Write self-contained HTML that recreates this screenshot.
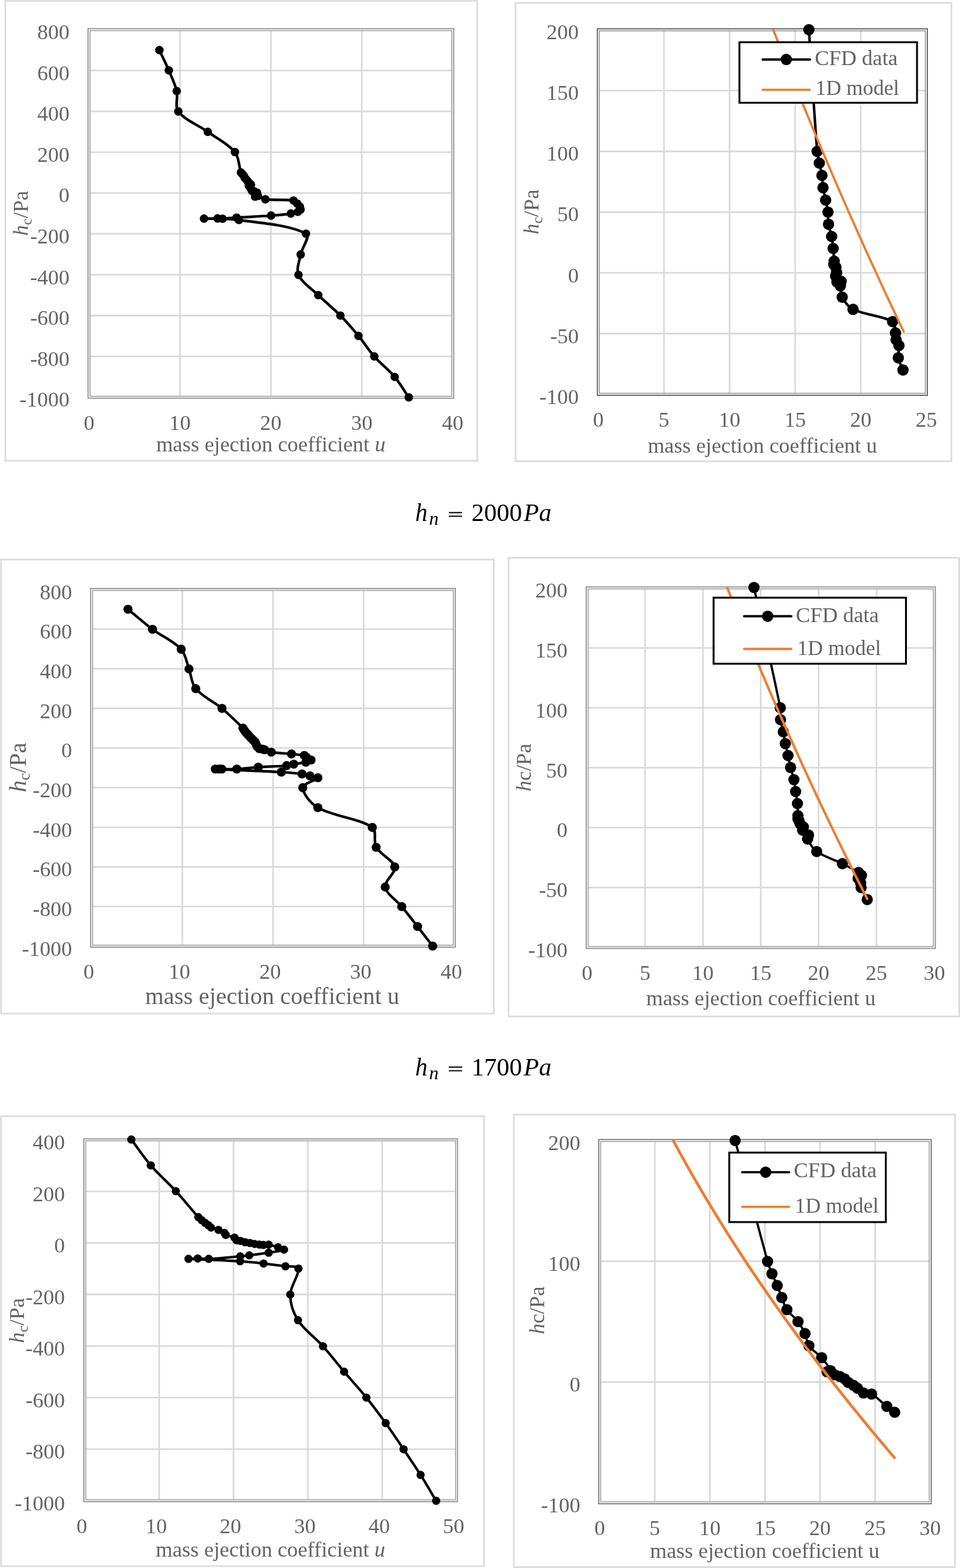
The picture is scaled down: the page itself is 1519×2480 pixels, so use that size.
<!DOCTYPE html>
<html><head><meta charset="utf-8"><title>mass ejection coefficient charts</title>
<style>html,body{margin:0;padding:0;background:#fff;}svg{display:block;}</style></head>
<body><svg width="1519" height="2480" viewBox="0 0 1519 2480">
<rect width="1519" height="2480" fill="#fff"/>
<rect x="8.6" y="1.3" width="746.5" height="727.5" fill="#fff" stroke="#dddddd" stroke-width="2.8"/>
<line x1="284.75" y1="46.9" x2="284.75" y2="628.3" stroke="#d9d9d9" stroke-width="2.6"/>
<line x1="428.6" y1="46.9" x2="428.6" y2="628.3" stroke="#d9d9d9" stroke-width="2.6"/>
<line x1="572.45" y1="46.9" x2="572.45" y2="628.3" stroke="#d9d9d9" stroke-width="2.6"/>
<line x1="140.9" y1="111.5" x2="716.3" y2="111.5" stroke="#d9d9d9" stroke-width="2.6"/>
<line x1="140.9" y1="176.1" x2="716.3" y2="176.1" stroke="#d9d9d9" stroke-width="2.6"/>
<line x1="140.9" y1="240.7" x2="716.3" y2="240.7" stroke="#d9d9d9" stroke-width="2.6"/>
<line x1="140.9" y1="305.3" x2="716.3" y2="305.3" stroke="#d9d9d9" stroke-width="2.6"/>
<line x1="140.9" y1="369.9" x2="716.3" y2="369.9" stroke="#d9d9d9" stroke-width="2.6"/>
<line x1="140.9" y1="434.5" x2="716.3" y2="434.5" stroke="#d9d9d9" stroke-width="2.6"/>
<line x1="140.9" y1="499.1" x2="716.3" y2="499.1" stroke="#d9d9d9" stroke-width="2.6"/>
<line x1="140.9" y1="563.7" x2="716.3" y2="563.7" stroke="#d9d9d9" stroke-width="2.6"/>
<rect x="140.9" y="46.9" width="575.4" height="581.4" fill="none" stroke="#e4e4e4" stroke-width="3.4"/>
<rect x="139.2" y="45.2" width="578.8" height="584.8" fill="none" stroke="#7a7a7a" stroke-width="1.2"/>
<rect x="142.6" y="48.6" width="572" height="578" fill="none" stroke="#9a9a9a" stroke-width="1.2"/>
<g font-family="'Liberation Serif', 'Times New Roman', serif" font-size="34" fill="#636363" text-anchor="middle">
<text x="140.9" y="679.5">0</text>
<text x="284.75" y="679.5">10</text>
<text x="428.6" y="679.5">20</text>
<text x="572.45" y="679.5">30</text>
<text x="716.3" y="679.5">40</text>
</g>
<g font-family="'Liberation Serif', 'Times New Roman', serif" font-size="34" fill="#636363" text-anchor="end">
<text x="110" y="61.9">800</text>
<text x="110" y="126.5">600</text>
<text x="110" y="191.1">400</text>
<text x="110" y="255.7">200</text>
<text x="110" y="320.3">0</text>
<text x="110" y="384.9">-200</text>
<text x="110" y="449.5">-400</text>
<text x="110" y="514.1">-600</text>
<text x="110" y="578.7">-800</text>
<text x="110" y="643.3">-1000</text>
</g>
<text transform="translate(43.6,337.4) rotate(-90)" font-family="'Liberation Serif', 'Times New Roman', serif" font-size="34" fill="#636363" text-anchor="middle"><tspan font-style="italic">h</tspan><tspan font-size="24" dy="6">c</tspan><tspan dy="-6">/Pa</tspan></text>
<text x="428.6" y="714.2" font-family="'Liberation Serif', 'Times New Roman', serif" font-size="34" fill="#636363" text-anchor="middle">mass ejection coefficient <tspan font-style="italic">u</tspan></text>
<path d="M252.2,79.3 C257.17,89.97 262.51,100.47 267.1,111.3 C271.64,122.01 276.99,132.68 279.6,143.9 C282.03,154.35 276.23,168.44 282.2,176.3 C292.59,189.97 313.38,197.51 328.7,208.5 C343.22,218.91 360.95,227.34 371.7,240.5 C378.45,248.77 377.64,262.25 381.2,272.8 C381.54,273.82 382.68,274.39 383.4,275.2 C384.11,275.99 384.93,276.71 385.5,277.6 C386.17,278.65 386.4,279.98 387.1,281 C387.77,281.98 388.83,282.68 389.6,283.6 C390.4,284.55 390.99,285.66 391.8,286.6 C392.66,287.6 393.67,288.47 394.6,289.4 C395.43,290.23 397.26,291.23 397.1,291.9 C396.93,292.63 393.74,292.75 393.6,293.6 C393.44,294.62 395.38,296.17 396.2,297.5 C397.11,298.97 397.58,300.98 398.8,302 C399.68,302.74 401.31,302.41 402.5,302.8 C403.94,303.27 406.35,303.68 406.7,304.6 C407.01,305.41 405.1,306.8 404.5,308 C404.03,308.94 403.01,310.75 403.5,311 C404.25,311.38 406.71,309.52 408.2,309.9 C412.17,310.92 415.71,314.66 419.9,315.2 C434.44,317.06 450.05,315.19 464.4,317.1 C466.85,317.43 468.47,320.16 470.3,321.9 C471.84,323.36 473.49,324.9 474.5,326.7 C475.26,328.06 476.09,330.11 475.6,331.4 C475.02,332.91 473,334.39 471.3,335.1 C467.87,336.53 463.96,337.28 460.2,337.8 C449.83,339.24 439.36,340.23 428.9,341 C410.72,342.33 392.49,342.94 374.3,344.1 C366.92,344.57 359.57,345.56 352.2,345.9 C349.57,346.02 346.94,345.52 344.3,345.5 C337.14,345.45 319.65,345.48 322.8,345.7 C330.89,346.28 359.84,345.21 378,347.9 C413.6,353.18 459.26,355.76 484.1,369.6 C491.86,373.92 477.81,391.33 475.8,402.4 C473.87,413.03 468.41,425.68 472.3,434.7 C477.67,447.15 492.88,456.39 503.6,466.8 C514.98,477.86 527.46,487.82 538.6,499.1 C548.66,509.28 558.06,520.17 567.2,531.2 C575.93,541.74 583.16,553.56 592.2,563.8 C602.26,575.19 614.72,584.51 624.5,596.1 C632.92,606.08 639.37,617.7 646.8,628.5" fill="none" stroke="#000" stroke-width="4.2" stroke-linejoin="round" stroke-linecap="round"/>
<circle cx="252.2" cy="79.3" r="6.7"/>
<circle cx="267.1" cy="111.3" r="6.7"/>
<circle cx="279.6" cy="143.9" r="6.7"/>
<circle cx="282.2" cy="176.3" r="6.7"/>
<circle cx="328.7" cy="208.5" r="6.7"/>
<circle cx="371.7" cy="240.5" r="6.7"/>
<circle cx="381.2" cy="272.8" r="6.7"/>
<circle cx="383.4" cy="275.2" r="6.7"/>
<circle cx="385.5" cy="277.6" r="6.7"/>
<circle cx="387.1" cy="281" r="6.7"/>
<circle cx="389.6" cy="283.6" r="6.7"/>
<circle cx="391.8" cy="286.6" r="6.7"/>
<circle cx="394.6" cy="289.4" r="6.7"/>
<circle cx="397.1" cy="291.9" r="6.7"/>
<circle cx="393.6" cy="293.6" r="6.7"/>
<circle cx="396.2" cy="297.5" r="6.7"/>
<circle cx="398.8" cy="302" r="6.7"/>
<circle cx="402.5" cy="302.8" r="6.7"/>
<circle cx="406.7" cy="304.6" r="6.7"/>
<circle cx="404.5" cy="308" r="6.7"/>
<circle cx="403.5" cy="311" r="6.7"/>
<circle cx="408.2" cy="309.9" r="6.7"/>
<circle cx="419.9" cy="315.2" r="6.7"/>
<circle cx="464.4" cy="317.1" r="6.7"/>
<circle cx="470.3" cy="321.9" r="6.7"/>
<circle cx="474.5" cy="326.7" r="6.7"/>
<circle cx="475.6" cy="331.4" r="6.7"/>
<circle cx="471.3" cy="335.1" r="6.7"/>
<circle cx="460.2" cy="337.8" r="6.7"/>
<circle cx="428.9" cy="341" r="6.7"/>
<circle cx="374.3" cy="344.1" r="6.7"/>
<circle cx="352.2" cy="345.9" r="6.7"/>
<circle cx="344.3" cy="345.5" r="6.7"/>
<circle cx="322.8" cy="345.7" r="6.7"/>
<circle cx="378" cy="347.9" r="6.7"/>
<circle cx="484.1" cy="369.6" r="6.7"/>
<circle cx="475.8" cy="402.4" r="6.7"/>
<circle cx="472.3" cy="434.7" r="6.7"/>
<circle cx="503.6" cy="466.8" r="6.7"/>
<circle cx="538.6" cy="499.1" r="6.7"/>
<circle cx="567.2" cy="531.2" r="6.7"/>
<circle cx="592.2" cy="563.8" r="6.7"/>
<circle cx="624.5" cy="596.1" r="6.7"/>
<circle cx="646.8" cy="628.5" r="6.7"/>
<rect x="815.7" y="4.6" width="689.7" height="725" fill="#fff" stroke="#dddddd" stroke-width="2.8"/>
<line x1="1050.6" y1="47.2" x2="1050.6" y2="623.68" stroke="#d9d9d9" stroke-width="2.6"/>
<line x1="1154.4" y1="47.2" x2="1154.4" y2="623.68" stroke="#d9d9d9" stroke-width="2.6"/>
<line x1="1258.2" y1="47.2" x2="1258.2" y2="623.68" stroke="#d9d9d9" stroke-width="2.6"/>
<line x1="1362" y1="47.2" x2="1362" y2="623.68" stroke="#d9d9d9" stroke-width="2.6"/>
<line x1="946.8" y1="143.28" x2="1465.8" y2="143.28" stroke="#d9d9d9" stroke-width="2.6"/>
<line x1="946.8" y1="239.36" x2="1465.8" y2="239.36" stroke="#d9d9d9" stroke-width="2.6"/>
<line x1="946.8" y1="335.44" x2="1465.8" y2="335.44" stroke="#d9d9d9" stroke-width="2.6"/>
<line x1="946.8" y1="431.52" x2="1465.8" y2="431.52" stroke="#d9d9d9" stroke-width="2.6"/>
<line x1="946.8" y1="527.6" x2="1465.8" y2="527.6" stroke="#d9d9d9" stroke-width="2.6"/>
<rect x="946.8" y="47.2" width="519" height="576.48" fill="none" stroke="#e4e4e4" stroke-width="3.4"/>
<rect x="945.1" y="45.5" width="522.4" height="579.88" fill="none" stroke="#333" stroke-width="1.2"/>
<rect x="948.5" y="48.9" width="515.6" height="573.08" fill="none" stroke="#8a8a8a" stroke-width="1.2"/>
<g font-family="'Liberation Serif', 'Times New Roman', serif" font-size="34" fill="#636363" text-anchor="middle">
<text x="946.8" y="675">0</text>
<text x="1050.6" y="675">5</text>
<text x="1154.4" y="675">10</text>
<text x="1258.2" y="675">15</text>
<text x="1362" y="675">20</text>
<text x="1465.8" y="675">25</text>
</g>
<g font-family="'Liberation Serif', 'Times New Roman', serif" font-size="34" fill="#636363" text-anchor="end">
<text x="915.8" y="62.2">200</text>
<text x="915.8" y="158.28">150</text>
<text x="915.8" y="254.36">100</text>
<text x="915.8" y="350.44">50</text>
<text x="915.8" y="446.52">0</text>
<text x="915.8" y="542.6">-50</text>
<text x="915.8" y="638.68">-100</text>
</g>
<text transform="translate(852,335.3) rotate(-90)" font-family="'Liberation Serif', 'Times New Roman', serif" font-size="34" fill="#636363" text-anchor="middle"><tspan font-style="italic">h</tspan><tspan font-size="24" dy="6">c</tspan><tspan dy="-6">/Pa</tspan></text>
<text x="1206.3" y="715.5" font-family="'Liberation Serif', 'Times New Roman', serif" font-size="34" fill="#636363" text-anchor="middle">mass ejection coefficient u</text>
<path d="M1279.9,47 C1284.27,111.13 1287.99,175.35 1293,239.4 C1293.49,245.68 1295.17,251.82 1296.4,258 C1297.7,264.52 1299.62,270.94 1300.6,277.5 C1301.55,283.87 1301.25,290.43 1302.2,296.8 C1303.19,303.43 1305.06,309.92 1306.4,316.5 C1307.69,322.82 1309.33,329.11 1310.1,335.5 C1310.86,341.84 1310.05,348.4 1311,354.7 C1311.98,361.23 1314.66,367.49 1315.9,374 C1317.09,380.26 1317.65,386.65 1318.3,393 C1318.98,399.68 1319.61,406.4 1319.9,413.1 C1319.97,414.8 1318.96,416.66 1319.4,418.2 C1319.89,419.9 1322.13,421.06 1322.7,422.8 C1323.56,425.4 1323.8,428.43 1323.7,431.2 C1323.63,433.07 1322.13,434.85 1322.2,436.7 C1322.33,439.79 1322.59,444.35 1324.3,446 C1325.49,447.15 1330.03,444.12 1330.9,445.1 C1331.83,446.15 1329.54,449.76 1329.7,452.1 C1330.11,458.06 1329.84,464.89 1332.6,470 C1336.54,477.29 1342.28,485.65 1349.8,489.3 C1368.88,498.55 1394.95,499 1412.4,508.7 C1417.31,511.43 1415.75,520.57 1416.9,526.6 C1417.58,530.17 1416.94,534.04 1417.9,537.5 C1418.78,540.68 1422,543.27 1422.4,546.5 C1423.17,552.74 1420.37,559.65 1421.4,565.9 C1422.5,572.55 1426.33,578.77 1428.8,585.2" fill="none" stroke="#000" stroke-width="4" stroke-linejoin="round" stroke-linecap="round"/>
<circle cx="1279.9" cy="47" r="9"/>
<circle cx="1293" cy="239.4" r="9"/>
<circle cx="1296.4" cy="258" r="9"/>
<circle cx="1300.6" cy="277.5" r="9"/>
<circle cx="1302.2" cy="296.8" r="9"/>
<circle cx="1306.4" cy="316.5" r="9"/>
<circle cx="1310.1" cy="335.5" r="9"/>
<circle cx="1311" cy="354.7" r="9"/>
<circle cx="1315.9" cy="374" r="9"/>
<circle cx="1318.3" cy="393" r="9"/>
<circle cx="1319.9" cy="413.1" r="9"/>
<circle cx="1319.4" cy="418.2" r="9"/>
<circle cx="1322.7" cy="422.8" r="9"/>
<circle cx="1323.7" cy="431.2" r="9"/>
<circle cx="1322.2" cy="436.7" r="9"/>
<circle cx="1324.3" cy="446" r="9"/>
<circle cx="1330.9" cy="445.1" r="9"/>
<circle cx="1329.7" cy="452.1" r="9"/>
<circle cx="1332.6" cy="470" r="9"/>
<circle cx="1349.8" cy="489.3" r="9"/>
<circle cx="1412.4" cy="508.7" r="9"/>
<circle cx="1416.9" cy="526.6" r="9"/>
<circle cx="1417.9" cy="537.5" r="9"/>
<circle cx="1422.4" cy="546.5" r="9"/>
<circle cx="1421.4" cy="565.9" r="9"/>
<circle cx="1428.8" cy="585.2" r="9"/>
<path d="M1223.87,48 C1225.45,52.07 1227.03,56.15 1228.62,60.22 C1230.2,64.3 1231.8,68.37 1233.39,72.44 C1234.99,76.52 1236.59,80.59 1238.2,84.66 C1239.8,88.74 1241.41,92.81 1243.03,96.88 C1244.64,100.96 1246.26,105.03 1247.89,109.1 C1249.51,113.18 1251.14,117.25 1252.78,121.32 C1254.41,125.4 1256.05,129.47 1257.69,133.54 C1259.34,137.62 1260.99,141.69 1262.64,145.76 C1264.29,149.84 1265.95,153.91 1267.61,157.98 C1269.28,162.06 1270.94,166.13 1272.61,170.21 C1274.29,174.28 1275.96,178.35 1277.64,182.43 C1279.33,186.5 1281.01,190.57 1282.7,194.65 C1284.39,198.72 1286.09,202.79 1287.79,206.87 C1289.49,210.94 1291.19,215.02 1292.9,219.09 C1294.61,223.16 1296.33,227.24 1298.04,231.31 C1299.76,235.38 1301.49,239.46 1303.22,243.53 C1304.94,247.6 1306.68,251.68 1308.41,255.75 C1310.15,259.82 1311.9,263.9 1313.64,267.97 C1315.39,272.04 1317.14,276.12 1318.9,280.19 C1320.66,284.26 1322.42,288.34 1324.18,292.41 C1325.95,296.49 1327.72,300.56 1329.49,304.63 C1331.27,308.71 1333.05,312.78 1334.83,316.85 C1336.62,320.93 1338.41,325 1340.2,329.07 C1342,333.15 1343.8,337.22 1345.6,341.29 C1347.4,345.37 1349.21,349.44 1351.03,353.51 C1352.84,357.59 1354.66,361.66 1356.48,365.73 C1358.3,369.81 1360.13,373.88 1361.96,377.95 C1363.79,382.03 1365.63,386.1 1367.47,390.17 C1369.31,394.25 1371.16,398.32 1373.01,402.39 C1374.86,406.47 1376.72,410.54 1378.58,414.62 C1380.44,418.69 1382.3,422.76 1384.17,426.84 C1386.04,430.91 1387.91,434.98 1389.79,439.06 C1391.67,443.13 1393.56,447.21 1395.44,451.28 C1397.33,455.35 1399.23,459.43 1401.12,463.5 C1403.02,467.57 1404.92,471.65 1406.83,475.72 C1408.74,479.79 1410.65,483.87 1412.57,487.94 C1414.48,492.01 1416.41,496.09 1418.33,500.16 C1420.26,504.23 1422.19,508.31 1424.12,512.38 C1426.06,516.45 1428,520.53 1429.94,524.6" fill="none" stroke="#ed7d31" stroke-width="3.6" stroke-linecap="round"/>
<rect x="1170" y="66.8" width="281" height="95.7" fill="#fff" stroke="#000" stroke-width="3"/>
<line x1="1206.8" y1="94.1" x2="1281.5" y2="94.1" stroke="#000" stroke-width="3.7" stroke-linecap="round"/>
<circle cx="1244.15" cy="94.1" r="9"/>
<line x1="1206.8" y1="142" x2="1281.5" y2="142" stroke="#ed7d31" stroke-width="3.6" stroke-linecap="round"/>
<g font-family="'Liberation Serif', 'Times New Roman', serif" font-size="34" fill="#636363">
<text x="1289.2" y="103.2">CFD data</text>
<text x="1290.2" y="150.3" font-size="33.4">1D model</text>
</g>
<rect x="1.6" y="885" width="779.7" height="718.1" fill="#fff" stroke="#dddddd" stroke-width="2.8"/>
<line x1="288.45" y1="932.3" x2="288.45" y2="1496.51" stroke="#d9d9d9" stroke-width="2.6"/>
<line x1="431.9" y1="932.3" x2="431.9" y2="1496.51" stroke="#d9d9d9" stroke-width="2.6"/>
<line x1="575.35" y1="932.3" x2="575.35" y2="1496.51" stroke="#d9d9d9" stroke-width="2.6"/>
<line x1="145" y1="994.99" x2="718.8" y2="994.99" stroke="#d9d9d9" stroke-width="2.6"/>
<line x1="145" y1="1057.68" x2="718.8" y2="1057.68" stroke="#d9d9d9" stroke-width="2.6"/>
<line x1="145" y1="1120.37" x2="718.8" y2="1120.37" stroke="#d9d9d9" stroke-width="2.6"/>
<line x1="145" y1="1183.06" x2="718.8" y2="1183.06" stroke="#d9d9d9" stroke-width="2.6"/>
<line x1="145" y1="1245.75" x2="718.8" y2="1245.75" stroke="#d9d9d9" stroke-width="2.6"/>
<line x1="145" y1="1308.44" x2="718.8" y2="1308.44" stroke="#d9d9d9" stroke-width="2.6"/>
<line x1="145" y1="1371.13" x2="718.8" y2="1371.13" stroke="#d9d9d9" stroke-width="2.6"/>
<line x1="145" y1="1433.82" x2="718.8" y2="1433.82" stroke="#d9d9d9" stroke-width="2.6"/>
<rect x="145" y="932.3" width="573.8" height="564.21" fill="none" stroke="#e4e4e4" stroke-width="3.4"/>
<rect x="143.3" y="930.6" width="577.2" height="567.61" fill="none" stroke="#7a7a7a" stroke-width="1.2"/>
<rect x="146.7" y="934" width="570.4" height="560.81" fill="none" stroke="#9a9a9a" stroke-width="1.2"/>
<g font-family="'Liberation Serif', 'Times New Roman', serif" font-size="34" fill="#636363" text-anchor="middle">
<text x="140.5" y="1548">0</text>
<text x="283.95" y="1548">10</text>
<text x="427.4" y="1548">20</text>
<text x="570.85" y="1548">30</text>
<text x="714.3" y="1548">40</text>
</g>
<g font-family="'Liberation Serif', 'Times New Roman', serif" font-size="34" fill="#636363" text-anchor="end">
<text x="114" y="947.5">800</text>
<text x="114" y="1010.19">600</text>
<text x="114" y="1072.88">400</text>
<text x="114" y="1135.57">200</text>
<text x="114" y="1198.26">0</text>
<text x="114" y="1260.95">-200</text>
<text x="114" y="1323.64">-400</text>
<text x="114" y="1386.33">-600</text>
<text x="114" y="1449.02">-800</text>
<text x="114" y="1511.71">-1000</text>
</g>
<text transform="translate(40.8,1213.8) rotate(-90)" font-family="'Liberation Serif', 'Times New Roman', serif" font-size="37.7" fill="#636363" text-anchor="middle"><tspan font-style="italic">h</tspan><tspan font-size="26" dy="6.5">c</tspan><tspan dy="-6.5">/Pa</tspan></text>
<text x="430.8" y="1588.3" font-family="'Liberation Serif', 'Times New Roman', serif" font-size="37.7" fill="#636363" text-anchor="middle">mass ejection coefficient u</text>
<path d="M202.5,963.6 C215.43,974.2 227.94,985.37 241.3,995.4 C256,1006.44 274.74,1013.82 286.7,1026.8 C293.97,1034.69 295.13,1047.51 299,1058 C302.8,1068.31 302.94,1081.12 309.7,1089.2 C320.37,1101.95 338,1109.39 351.3,1120.5 C362.9,1130.19 373.63,1141.02 384.4,1151.6 C385.43,1152.62 385.88,1154.11 386.7,1155.3 C387.58,1156.57 388.49,1157.83 389.5,1159 C390.36,1160 391.41,1160.83 392.3,1161.8 C393.24,1162.83 394.06,1163.97 395,1165 C395.89,1165.97 396.87,1166.87 397.8,1167.8 C398.73,1168.73 399.67,1169.67 400.6,1170.6 C401.53,1171.53 402.64,1172.34 403.4,1173.4 C404.2,1174.51 404.68,1175.86 405.3,1177.1 C405.91,1178.33 406.3,1179.71 407.1,1180.8 C408,1182.04 409.07,1183.44 410.4,1184.1 C411.87,1184.84 413.81,1184.63 415.5,1185 C416.58,1185.23 417.65,1185.55 418.7,1185.9 C422.22,1187.08 425.55,1189.03 429.2,1189.6 C439.72,1191.23 450.55,1191.42 461.2,1192.5 C467.98,1193.19 475.03,1193.43 481.5,1194.9 C482.96,1195.23 483.73,1197.05 485,1197.9 C487.3,1199.45 492.38,1200.87 492.2,1202.1 C492.01,1203.43 486.8,1204.91 483.9,1205.6 C477.67,1207.08 471.14,1207.47 464.8,1208.6 C461.01,1209.27 457.33,1210.67 453.5,1211 C438.63,1212.27 423.62,1212.38 408.7,1213.4 C397.35,1214.18 386.05,1215.81 374.7,1216.4 C366.78,1216.81 358.83,1216.4 350.9,1216.4 C349.5,1216.4 348.1,1216.4 346.7,1216.4 C344.7,1216.4 338.92,1216.31 340.7,1216.4 C371.72,1217.91 410.32,1219.25 445.1,1221.2 C456.06,1221.81 467.04,1222.69 477.9,1224.1 C482.14,1224.65 486.23,1226.1 490.4,1227.1 C494.6,1228.1 504.17,1228.16 503,1230.1 C500.41,1234.39 479.11,1239.18 479.1,1245.8 C479.08,1254.95 491.85,1271.08 502.9,1277.4 C528.52,1292.05 566.29,1293.2 589.1,1308.7 C597.06,1314.1 590.14,1331.19 595.2,1340.1 C601.97,1352.02 621.98,1359.7 624.6,1371.2 C626.75,1380.66 607.78,1393.28 609.5,1403 C611.48,1414.18 627.14,1423.46 635.7,1433.9 C644.2,1444.26 652.44,1454.84 660.7,1465.4 C668.74,1475.68 676.63,1486.07 684.6,1496.4" fill="none" stroke="#000" stroke-width="4.1" stroke-linejoin="round" stroke-linecap="round"/>
<circle cx="202.5" cy="963.6" r="7.2"/>
<circle cx="241.3" cy="995.4" r="7.2"/>
<circle cx="286.7" cy="1026.8" r="7.2"/>
<circle cx="299" cy="1058" r="7.2"/>
<circle cx="309.7" cy="1089.2" r="7.2"/>
<circle cx="351.3" cy="1120.5" r="7.2"/>
<circle cx="384.4" cy="1151.6" r="7.2"/>
<circle cx="386.7" cy="1155.3" r="7.2"/>
<circle cx="389.5" cy="1159" r="7.2"/>
<circle cx="392.3" cy="1161.8" r="7.2"/>
<circle cx="395" cy="1165" r="7.2"/>
<circle cx="397.8" cy="1167.8" r="7.2"/>
<circle cx="400.6" cy="1170.6" r="7.2"/>
<circle cx="403.4" cy="1173.4" r="7.2"/>
<circle cx="405.3" cy="1177.1" r="7.2"/>
<circle cx="407.1" cy="1180.8" r="7.2"/>
<circle cx="410.4" cy="1184.1" r="7.2"/>
<circle cx="415.5" cy="1185" r="7.2"/>
<circle cx="418.7" cy="1185.9" r="7.2"/>
<circle cx="429.2" cy="1189.6" r="7.2"/>
<circle cx="461.2" cy="1192.5" r="7.2"/>
<circle cx="481.5" cy="1194.9" r="7.2"/>
<circle cx="485" cy="1197.9" r="7.2"/>
<circle cx="492.2" cy="1202.1" r="7.2"/>
<circle cx="483.9" cy="1205.6" r="7.2"/>
<circle cx="464.8" cy="1208.6" r="7.2"/>
<circle cx="453.5" cy="1211" r="7.2"/>
<circle cx="408.7" cy="1213.4" r="7.2"/>
<circle cx="374.7" cy="1216.4" r="7.2"/>
<circle cx="350.9" cy="1216.4" r="7.2"/>
<circle cx="346.7" cy="1216.4" r="7.2"/>
<circle cx="340.7" cy="1216.4" r="7.2"/>
<circle cx="445.1" cy="1221.2" r="7.2"/>
<circle cx="477.9" cy="1224.1" r="7.2"/>
<circle cx="490.4" cy="1227.1" r="7.2"/>
<circle cx="503" cy="1230.1" r="7.2"/>
<circle cx="479.1" cy="1245.8" r="7.2"/>
<circle cx="502.9" cy="1277.4" r="7.2"/>
<circle cx="589.1" cy="1308.7" r="7.2"/>
<circle cx="595.2" cy="1340.1" r="7.2"/>
<circle cx="624.6" cy="1371.2" r="7.2"/>
<circle cx="609.5" cy="1403" r="7.2"/>
<circle cx="635.7" cy="1433.9" r="7.2"/>
<circle cx="660.7" cy="1465.4" r="7.2"/>
<circle cx="684.6" cy="1496.4" r="7.2"/>
<rect x="804.7" y="882.2" width="712.9" height="725.6" fill="#fff" stroke="#dddddd" stroke-width="2.8"/>
<line x1="1020.65" y1="929.9" x2="1020.65" y2="1498.58" stroke="#d9d9d9" stroke-width="2.6"/>
<line x1="1112.2" y1="929.9" x2="1112.2" y2="1498.58" stroke="#d9d9d9" stroke-width="2.6"/>
<line x1="1203.75" y1="929.9" x2="1203.75" y2="1498.58" stroke="#d9d9d9" stroke-width="2.6"/>
<line x1="1295.3" y1="929.9" x2="1295.3" y2="1498.58" stroke="#d9d9d9" stroke-width="2.6"/>
<line x1="1386.85" y1="929.9" x2="1386.85" y2="1498.58" stroke="#d9d9d9" stroke-width="2.6"/>
<line x1="929.1" y1="1024.68" x2="1478.4" y2="1024.68" stroke="#d9d9d9" stroke-width="2.6"/>
<line x1="929.1" y1="1119.46" x2="1478.4" y2="1119.46" stroke="#d9d9d9" stroke-width="2.6"/>
<line x1="929.1" y1="1214.24" x2="1478.4" y2="1214.24" stroke="#d9d9d9" stroke-width="2.6"/>
<line x1="929.1" y1="1309.02" x2="1478.4" y2="1309.02" stroke="#d9d9d9" stroke-width="2.6"/>
<line x1="929.1" y1="1403.8" x2="1478.4" y2="1403.8" stroke="#d9d9d9" stroke-width="2.6"/>
<rect x="929.1" y="929.9" width="549.3" height="568.68" fill="none" stroke="#e4e4e4" stroke-width="3.4"/>
<rect x="927.4" y="928.2" width="552.7" height="572.08" fill="none" stroke="#7a7a7a" stroke-width="1.2"/>
<rect x="930.8" y="931.6" width="545.9" height="565.28" fill="none" stroke="#9a9a9a" stroke-width="1.2"/>
<g font-family="'Liberation Serif', 'Times New Roman', serif" font-size="34" fill="#636363" text-anchor="middle">
<text x="929.1" y="1549.8">0</text>
<text x="1020.65" y="1549.8">5</text>
<text x="1112.2" y="1549.8">10</text>
<text x="1203.75" y="1549.8">15</text>
<text x="1295.3" y="1549.8">20</text>
<text x="1386.85" y="1549.8">25</text>
<text x="1478.4" y="1549.8">30</text>
</g>
<g font-family="'Liberation Serif', 'Times New Roman', serif" font-size="34" fill="#636363" text-anchor="end">
<text x="898" y="945.2">200</text>
<text x="898" y="1039.98">150</text>
<text x="898" y="1134.76">100</text>
<text x="898" y="1229.54">50</text>
<text x="898" y="1324.32">0</text>
<text x="898" y="1419.1">-50</text>
<text x="898" y="1513.88">-100</text>
</g>
<text transform="translate(840.1,1213.9) rotate(-90)" font-family="'Liberation Serif', 'Times New Roman', serif" font-size="34" fill="#636363" text-anchor="middle"><tspan font-style="italic">h</tspan>c/Pa</text>
<text x="1204" y="1590" font-family="'Liberation Serif', 'Times New Roman', serif" font-size="34" fill="#636363" text-anchor="middle">mass ejection coefficient u</text>
<path d="M1193,929.1 C1206.87,992.53 1221.84,1055.84 1234.6,1119.4 C1235.84,1125.57 1234.22,1132.08 1235,1138.3 C1235.82,1144.78 1238.11,1151.07 1239.4,1157.5 C1240.64,1163.67 1241.37,1169.93 1242.6,1176.1 C1243.87,1182.43 1245.51,1188.69 1246.9,1195 C1248.28,1201.29 1249.37,1207.65 1250.9,1213.9 C1252.47,1220.35 1254.84,1226.62 1256.2,1233.1 C1257.51,1239.32 1257.97,1245.7 1258.9,1252 C1259.84,1258.34 1261.2,1264.63 1261.8,1271 C1262.4,1277.3 1262.32,1283.67 1262.5,1290 C1262.55,1291.67 1262.15,1293.42 1262.5,1295 C1262.78,1296.26 1263.87,1297.29 1264.4,1298.5 C1265.04,1299.95 1265.1,1301.74 1266,1303 C1267.36,1304.91 1270.42,1306.05 1271.2,1308 C1271.75,1309.39 1269.19,1311.74 1270,1313 C1271.92,1315.97 1277.71,1317.66 1279.4,1320.7 C1280.31,1322.33 1276.9,1325.17 1277.8,1327 C1281.17,1333.87 1285.73,1342.22 1292.2,1346.8 C1304.1,1355.22 1319.49,1359.29 1332.9,1366 C1341.59,1370.35 1350.27,1374.93 1358.5,1380 C1360.34,1381.13 1363.21,1383.12 1363.1,1384.6 C1362.98,1386.19 1358,1387.39 1357.8,1389.2 C1357.56,1391.35 1360.97,1393.91 1361.8,1396.5 C1362.53,1398.78 1361.61,1401.56 1362.5,1403.8 C1365.08,1410.32 1368.97,1416.47 1372.2,1422.8" fill="none" stroke="#000" stroke-width="3.6" stroke-linejoin="round" stroke-linecap="round"/>
<circle cx="1193" cy="929.1" r="8.9"/>
<circle cx="1234.6" cy="1119.4" r="8.9"/>
<circle cx="1235" cy="1138.3" r="8.9"/>
<circle cx="1239.4" cy="1157.5" r="8.9"/>
<circle cx="1242.6" cy="1176.1" r="8.9"/>
<circle cx="1246.9" cy="1195" r="8.9"/>
<circle cx="1250.9" cy="1213.9" r="8.9"/>
<circle cx="1256.2" cy="1233.1" r="8.9"/>
<circle cx="1258.9" cy="1252" r="8.9"/>
<circle cx="1261.8" cy="1271" r="8.9"/>
<circle cx="1262.5" cy="1290" r="8.9"/>
<circle cx="1262.5" cy="1295" r="8.9"/>
<circle cx="1264.4" cy="1298.5" r="8.9"/>
<circle cx="1266" cy="1303" r="8.9"/>
<circle cx="1271.2" cy="1308" r="8.9"/>
<circle cx="1270" cy="1313" r="8.9"/>
<circle cx="1279.4" cy="1320.7" r="8.9"/>
<circle cx="1277.8" cy="1327" r="8.9"/>
<circle cx="1292.2" cy="1346.8" r="8.9"/>
<circle cx="1332.9" cy="1366" r="8.9"/>
<circle cx="1358.5" cy="1380" r="8.9"/>
<circle cx="1363.1" cy="1384.6" r="8.9"/>
<circle cx="1357.8" cy="1389.2" r="8.9"/>
<circle cx="1361.8" cy="1396.5" r="8.9"/>
<circle cx="1362.5" cy="1403.8" r="8.9"/>
<circle cx="1372.2" cy="1422.8" r="8.9"/>
<path d="M1150.77,929.5 C1152.42,933.71 1154.07,937.92 1155.72,942.12 C1157.38,946.33 1159.05,950.54 1160.71,954.74 C1162.39,958.95 1164.06,963.16 1165.74,967.36 C1167.43,971.57 1169.11,975.78 1170.81,979.98 C1172.5,984.19 1174.21,988.4 1175.91,992.6 C1177.62,996.81 1179.34,1001.02 1181.06,1005.22 C1182.78,1009.43 1184.5,1013.64 1186.24,1017.84 C1187.97,1022.05 1189.71,1026.26 1191.45,1030.46 C1193.2,1034.67 1194.95,1038.88 1196.71,1043.08 C1198.47,1047.29 1200.24,1051.5 1202.01,1055.71 C1203.78,1059.91 1205.56,1064.12 1207.34,1068.33 C1209.12,1072.53 1210.91,1076.74 1212.71,1080.95 C1214.51,1085.16 1216.31,1089.36 1218.12,1093.57 C1219.93,1097.78 1221.75,1101.98 1223.57,1106.19 C1225.39,1110.4 1227.22,1114.6 1229.05,1118.81 C1230.89,1123.02 1232.73,1127.22 1234.58,1131.43 C1236.43,1135.64 1238.28,1139.84 1240.14,1144.05 C1242,1148.26 1243.87,1152.46 1245.74,1156.67 C1247.61,1160.88 1249.49,1165.09 1251.38,1169.29 C1253.27,1173.5 1255.16,1177.71 1257.06,1181.91 C1258.95,1186.12 1260.86,1190.33 1262.77,1194.53 C1264.68,1198.74 1266.6,1202.95 1268.52,1207.15 C1270.45,1211.36 1272.38,1215.57 1274.31,1219.77 C1276.25,1223.98 1278.19,1228.19 1280.14,1232.39 C1282.09,1236.6 1284.05,1240.81 1286.01,1245.01 C1287.97,1249.22 1289.94,1253.43 1291.92,1257.63 C1293.89,1261.84 1295.87,1266.05 1297.86,1270.25 C1299.85,1274.46 1301.84,1278.67 1303.84,1282.87 C1305.84,1287.08 1307.85,1291.29 1309.86,1295.49 C1311.88,1299.7 1313.9,1303.91 1315.92,1308.12 C1317.95,1312.32 1319.98,1316.53 1322.02,1320.74 C1324.06,1324.95 1326.1,1329.15 1328.15,1333.36 C1330.2,1337.57 1332.26,1341.77 1334.32,1345.98 C1336.39,1350.19 1338.46,1354.39 1340.53,1358.6 C1342.61,1362.81 1344.7,1367.01 1346.78,1371.22 C1348.87,1375.43 1350.97,1379.63 1353.07,1383.84 C1355.17,1388.05 1357.28,1392.25 1359.4,1396.46 C1361.51,1400.67 1363.63,1404.88 1365.76,1409.08 C1367.89,1413.29 1370.03,1417.49 1372.16,1421.7" fill="none" stroke="#ed7d31" stroke-width="3.9" stroke-linecap="round"/>
<rect x="1129.1" y="945.3" width="304.4" height="104.5" fill="#fff" stroke="#000" stroke-width="3"/>
<line x1="1177.5" y1="974.7" x2="1252" y2="974.7" stroke="#000" stroke-width="3.7" stroke-linecap="round"/>
<circle cx="1214.75" cy="974.7" r="9"/>
<line x1="1177.5" y1="1026.4" x2="1252" y2="1026.4" stroke="#ed7d31" stroke-width="3.6" stroke-linecap="round"/>
<g font-family="'Liberation Serif', 'Times New Roman', serif" font-size="34" fill="#636363">
<text x="1259.3" y="984">CFD data</text>
<text x="1261.4" y="1035.5" font-size="33.4">1D model</text>
</g>
<rect x="1.6" y="1765.5" width="764.2" height="711.5" fill="#fff" stroke="#dddddd" stroke-width="2.8"/>
<line x1="251.83" y1="1802.75" x2="251.83" y2="2373.6" stroke="#d9d9d9" stroke-width="2.6"/>
<line x1="369.46" y1="1802.75" x2="369.46" y2="2373.6" stroke="#d9d9d9" stroke-width="2.6"/>
<line x1="487.09" y1="1802.75" x2="487.09" y2="2373.6" stroke="#d9d9d9" stroke-width="2.6"/>
<line x1="604.72" y1="1802.75" x2="604.72" y2="2373.6" stroke="#d9d9d9" stroke-width="2.6"/>
<line x1="134.2" y1="1884.3" x2="722.35" y2="1884.3" stroke="#d9d9d9" stroke-width="2.6"/>
<line x1="134.2" y1="1965.85" x2="722.35" y2="1965.85" stroke="#d9d9d9" stroke-width="2.6"/>
<line x1="134.2" y1="2047.4" x2="722.35" y2="2047.4" stroke="#d9d9d9" stroke-width="2.6"/>
<line x1="134.2" y1="2128.95" x2="722.35" y2="2128.95" stroke="#d9d9d9" stroke-width="2.6"/>
<line x1="134.2" y1="2210.5" x2="722.35" y2="2210.5" stroke="#d9d9d9" stroke-width="2.6"/>
<line x1="134.2" y1="2292.05" x2="722.35" y2="2292.05" stroke="#d9d9d9" stroke-width="2.6"/>
<rect x="134.2" y="1802.75" width="588.15" height="570.85" fill="none" stroke="#e4e4e4" stroke-width="3.4"/>
<rect x="132.5" y="1801.05" width="591.55" height="574.25" fill="none" stroke="#7a7a7a" stroke-width="1.2"/>
<rect x="135.9" y="1804.45" width="584.75" height="567.45" fill="none" stroke="#9a9a9a" stroke-width="1.2"/>
<g font-family="'Liberation Serif', 'Times New Roman', serif" font-size="34" fill="#636363" text-anchor="middle">
<text x="129.6" y="2424.5">0</text>
<text x="247.23" y="2424.5">10</text>
<text x="364.86" y="2424.5">20</text>
<text x="482.49" y="2424.5">30</text>
<text x="600.12" y="2424.5">40</text>
<text x="717.75" y="2424.5">50</text>
</g>
<g font-family="'Liberation Serif', 'Times New Roman', serif" font-size="34" fill="#636363" text-anchor="end">
<text x="102.8" y="1818.05">400</text>
<text x="102.8" y="1899.6">200</text>
<text x="102.8" y="1981.15">0</text>
<text x="102.8" y="2062.7">-200</text>
<text x="102.8" y="2144.25">-400</text>
<text x="102.8" y="2225.8">-600</text>
<text x="102.8" y="2307.35">-800</text>
<text x="102.8" y="2388.9">-1000</text>
</g>
<text transform="translate(38.2,2088.6) rotate(-90)" font-family="'Liberation Serif', 'Times New Roman', serif" font-size="34" fill="#636363" text-anchor="middle"><tspan font-style="italic">h</tspan><tspan font-size="24" dy="6">c</tspan><tspan dy="-6">/Pa</tspan></text>
<text x="428" y="2462.1" font-family="'Liberation Serif', 'Times New Roman', serif" font-size="34" fill="#636363" text-anchor="middle">mass ejection coefficient <tspan font-style="italic">u</tspan></text>
<path d="M207.8,1802.3 C218.07,1815.93 227.47,1830.3 238.6,1843.2 C250.94,1857.5 265.4,1869.96 278.2,1883.9 C290.47,1897.26 301.74,1911.56 313.8,1925.1 C315.37,1926.86 317.3,1928.27 319.1,1929.8 C320.83,1931.27 322.59,1932.73 324.4,1934.1 C326.12,1935.4 328,1936.48 329.7,1937.8 C331.17,1938.94 332.24,1940.73 333.9,1941.5 C337.54,1943.19 341.82,1943.68 345.6,1945.2 C348.88,1946.52 352.24,1948.05 355.1,1950 C356.14,1950.71 356.17,1952.67 357.3,1953.2 C361.47,1955.14 366.9,1955.34 371,1957.4 C372.53,1958.17 372.75,1960.9 374.2,1961.7 C375.95,1962.67 378.5,1962.23 380.6,1962.7 C383.1,1963.26 385.5,1964.26 388,1964.8 C390.43,1965.33 392.95,1965.46 395.4,1965.9 C397.91,1966.36 400.38,1967.06 402.9,1967.5 C405.35,1967.93 407.83,1968.21 410.3,1968.5 C412.39,1968.74 414.5,1969.1 416.6,1969.1 C419.43,1969.1 422.33,1968.06 425.1,1968.5 C430.13,1969.3 435.09,1971.19 440,1972.8 C443.23,1973.86 450.94,1975.68 449.5,1976.5 C445.98,1978.51 433.28,1979.96 425.1,1981.3 C414.91,1982.96 404.64,1984.18 394.4,1985.5 C389.64,1986.11 384.88,1986.68 380.1,1987.1 C363.51,1988.55 346.91,1990.29 330.3,1991.1 C324.48,1991.39 318.63,1990.4 312.8,1990.4 C307.93,1990.4 294.81,1990.88 298.2,1991.1 C317.18,1992.34 352.7,1993.13 379.9,1994.8 C392.3,1995.56 404.65,1997.02 417,1998.4 C428.59,1999.69 440.16,2001.13 451.7,2002.8 C458.56,2003.79 471.37,2001.55 472.2,2006.4 C473.91,2016.45 459.42,2033.77 459.3,2047.5 C459.18,2061.01 464.15,2076.49 471.5,2088.1 C481.41,2103.75 498.39,2115.13 511.1,2129.3 C522.72,2142.26 533.25,2156.2 544.5,2169.5 C556.12,2183.23 568.39,2196.43 579.7,2210.4 C590.32,2223.53 600.43,2237.09 610.3,2250.8 C620.06,2264.36 629.27,2278.33 638.6,2292.2 C647.67,2305.67 656.83,2319.08 665.5,2332.8 C674,2346.25 681.9,2360.07 690.1,2373.7" fill="none" stroke="#000" stroke-width="4" stroke-linejoin="round" stroke-linecap="round"/>
<circle cx="207.8" cy="1802.3" r="6.5"/>
<circle cx="238.6" cy="1843.2" r="6.5"/>
<circle cx="278.2" cy="1883.9" r="6.5"/>
<circle cx="313.8" cy="1925.1" r="6.5"/>
<circle cx="319.1" cy="1929.8" r="6.5"/>
<circle cx="324.4" cy="1934.1" r="6.5"/>
<circle cx="329.7" cy="1937.8" r="6.5"/>
<circle cx="333.9" cy="1941.5" r="6.5"/>
<circle cx="345.6" cy="1945.2" r="6.5"/>
<circle cx="355.1" cy="1950" r="6.5"/>
<circle cx="357.3" cy="1953.2" r="6.5"/>
<circle cx="371" cy="1957.4" r="6.5"/>
<circle cx="374.2" cy="1961.7" r="6.5"/>
<circle cx="380.6" cy="1962.7" r="6.5"/>
<circle cx="388" cy="1964.8" r="6.5"/>
<circle cx="395.4" cy="1965.9" r="6.5"/>
<circle cx="402.9" cy="1967.5" r="6.5"/>
<circle cx="410.3" cy="1968.5" r="6.5"/>
<circle cx="416.6" cy="1969.1" r="6.5"/>
<circle cx="425.1" cy="1968.5" r="6.5"/>
<circle cx="440" cy="1972.8" r="6.5"/>
<circle cx="449.5" cy="1976.5" r="6.5"/>
<circle cx="425.1" cy="1981.3" r="6.5"/>
<circle cx="394.4" cy="1985.5" r="6.5"/>
<circle cx="380.1" cy="1987.1" r="6.5"/>
<circle cx="330.3" cy="1991.1" r="6.5"/>
<circle cx="312.8" cy="1990.4" r="6.5"/>
<circle cx="298.2" cy="1991.1" r="6.5"/>
<circle cx="379.9" cy="1994.8" r="6.5"/>
<circle cx="417" cy="1998.4" r="6.5"/>
<circle cx="451.7" cy="2002.8" r="6.5"/>
<circle cx="472.2" cy="2006.4" r="6.5"/>
<circle cx="459.3" cy="2047.5" r="6.5"/>
<circle cx="471.5" cy="2088.1" r="6.5"/>
<circle cx="511.1" cy="2129.3" r="6.5"/>
<circle cx="544.5" cy="2169.5" r="6.5"/>
<circle cx="579.7" cy="2210.4" r="6.5"/>
<circle cx="610.3" cy="2250.8" r="6.5"/>
<circle cx="638.6" cy="2292.2" r="6.5"/>
<circle cx="665.5" cy="2332.8" r="6.5"/>
<circle cx="690.1" cy="2373.7" r="6.5"/>
<rect x="813" y="1762.8" width="698.2" height="715.8" fill="#fff" stroke="#dddddd" stroke-width="2.8"/>
<line x1="1036.1" y1="1803.9" x2="1036.1" y2="2376.81" stroke="#d9d9d9" stroke-width="2.6"/>
<line x1="1123.25" y1="1803.9" x2="1123.25" y2="2376.81" stroke="#d9d9d9" stroke-width="2.6"/>
<line x1="1210.4" y1="1803.9" x2="1210.4" y2="2376.81" stroke="#d9d9d9" stroke-width="2.6"/>
<line x1="1297.55" y1="1803.9" x2="1297.55" y2="2376.81" stroke="#d9d9d9" stroke-width="2.6"/>
<line x1="1384.7" y1="1803.9" x2="1384.7" y2="2376.81" stroke="#d9d9d9" stroke-width="2.6"/>
<line x1="948.95" y1="1994.87" x2="1471.85" y2="1994.87" stroke="#d9d9d9" stroke-width="2.6"/>
<line x1="948.95" y1="2185.84" x2="1471.85" y2="2185.84" stroke="#d9d9d9" stroke-width="2.6"/>
<rect x="948.95" y="1803.9" width="522.9" height="572.91" fill="none" stroke="#e4e4e4" stroke-width="3.4"/>
<rect x="947.25" y="1802.2" width="526.3" height="576.31" fill="none" stroke="#555" stroke-width="1.2"/>
<rect x="950.65" y="1805.6" width="519.5" height="569.51" fill="none" stroke="#9a9a9a" stroke-width="1.2"/>
<g font-family="'Liberation Serif', 'Times New Roman', serif" font-size="34" fill="#636363" text-anchor="middle">
<text x="948.95" y="2428.4">0</text>
<text x="1036.1" y="2428.4">5</text>
<text x="1123.25" y="2428.4">10</text>
<text x="1210.4" y="2428.4">15</text>
<text x="1297.55" y="2428.4">20</text>
<text x="1384.7" y="2428.4">25</text>
<text x="1471.85" y="2428.4">30</text>
</g>
<g font-family="'Liberation Serif', 'Times New Roman', serif" font-size="34" fill="#636363" text-anchor="end">
<text x="918.3" y="1818.9">200</text>
<text x="918.3" y="2009.87">100</text>
<text x="918.3" y="2200.84">0</text>
<text x="918.3" y="2391.81">-100</text>
</g>
<text transform="translate(860.6,2072.5) rotate(-90)" font-family="'Liberation Serif', 'Times New Roman', serif" font-size="34" fill="#636363" text-anchor="middle"><tspan font-style="italic">h</tspan>c/Pa</text>
<text x="1210" y="2463.7" font-family="'Liberation Serif', 'Times New Roman', serif" font-size="34" fill="#636363" text-anchor="middle">mass ejection coefficient u</text>
<path d="M1163.2,1803.9 C1180.3,1867.63 1196.91,1931.52 1214.5,1995.1 C1216.34,2001.75 1218.93,2008.2 1221.5,2014.6 C1224.03,2020.9 1227.21,2026.93 1229.8,2033.2 C1232.38,2039.46 1234.48,2045.91 1237,2052.2 C1239.58,2058.65 1241.27,2065.73 1245.1,2071.4 C1249.84,2078.43 1257.53,2083.48 1262.7,2090.3 C1267.09,2096.08 1270.81,2102.58 1273.8,2109.2 C1276.55,2115.28 1276.22,2123.03 1279.9,2128.4 C1284.95,2135.77 1293.99,2140.48 1300,2147.4 C1305.39,2153.61 1311.78,2161.78 1314.1,2167.8 C1314.64,2169.21 1307.92,2169.02 1308.6,2169.7 C1310.09,2171.19 1316.57,2172.84 1320.6,2174.3 C1323.37,2175.31 1326.28,2175.98 1329,2177.1 C1331.54,2178.15 1334.19,2179.22 1336.4,2180.8 C1338.52,2182.32 1339.89,2184.85 1342,2186.4 C1344.53,2188.25 1347.63,2189.32 1350.3,2191 C1352.56,2192.42 1354.68,2194.07 1356.8,2195.7 C1359.94,2198.11 1362.57,2201.64 1366.1,2203.1 C1370,2204.71 1375.42,2202.79 1379.1,2204.9 C1387.79,2209.89 1395.08,2218.01 1403.2,2224.4 C1407.28,2227.61 1411.53,2230.6 1415.7,2233.7" fill="none" stroke="#000" stroke-width="3.6" stroke-linejoin="round" stroke-linecap="round"/>
<circle cx="1163.2" cy="1803.9" r="8.9"/>
<circle cx="1214.5" cy="1995.1" r="8.9"/>
<circle cx="1221.5" cy="2014.6" r="8.9"/>
<circle cx="1229.8" cy="2033.2" r="8.9"/>
<circle cx="1237" cy="2052.2" r="8.9"/>
<circle cx="1245.1" cy="2071.4" r="8.9"/>
<circle cx="1262.7" cy="2090.3" r="8.9"/>
<circle cx="1273.8" cy="2109.2" r="8.9"/>
<circle cx="1279.9" cy="2128.4" r="8.9"/>
<circle cx="1300" cy="2147.4" r="8.9"/>
<circle cx="1314.1" cy="2167.8" r="8.9"/>
<circle cx="1308.6" cy="2169.7" r="8.9"/>
<circle cx="1320.6" cy="2174.3" r="8.9"/>
<circle cx="1329" cy="2177.1" r="8.9"/>
<circle cx="1336.4" cy="2180.8" r="8.9"/>
<circle cx="1342" cy="2186.4" r="8.9"/>
<circle cx="1350.3" cy="2191" r="8.9"/>
<circle cx="1356.8" cy="2195.7" r="8.9"/>
<circle cx="1366.1" cy="2203.1" r="8.9"/>
<circle cx="1379.1" cy="2204.9" r="8.9"/>
<circle cx="1403.2" cy="2224.4" r="8.9"/>
<circle cx="1415.7" cy="2233.7" r="8.9"/>
<path d="M1065.69,1804.8 C1068.02,1809.08 1070.33,1813.36 1072.67,1817.64 C1075.01,1821.92 1077.37,1826.2 1079.75,1830.47 C1082.13,1834.76 1084.52,1839.04 1086.93,1843.31 C1089.35,1847.59 1091.78,1851.87 1094.22,1856.14 C1096.67,1860.43 1099.14,1864.71 1101.61,1868.98 C1104.1,1873.27 1106.6,1877.54 1109.11,1881.82 C1111.63,1886.1 1114.17,1890.38 1116.72,1894.65 C1119.27,1898.94 1121.84,1903.22 1124.42,1907.49 C1127.01,1911.77 1129.62,1916.05 1132.24,1920.32 C1134.86,1924.61 1137.5,1928.89 1140.15,1933.16 C1142.81,1937.45 1145.49,1941.72 1148.17,1945.99 C1150.87,1950.28 1153.58,1954.56 1156.3,1958.83 C1159.03,1963.12 1161.78,1967.4 1164.53,1971.67 C1167.3,1975.95 1170.08,1980.23 1172.87,1984.5 C1175.67,1988.79 1178.48,1993.07 1181.31,1997.34 C1184.14,2001.63 1186.99,2005.9 1189.85,2010.17 C1192.72,2014.46 1195.61,2018.74 1198.5,2023.01 C1201.41,2027.3 1204.33,2031.58 1207.26,2035.85 C1210.2,2040.13 1213.15,2044.41 1216.12,2048.68 C1219.09,2052.97 1222.08,2057.25 1225.08,2061.52 C1228.09,2065.8 1231.11,2070.08 1234.15,2074.35 C1237.19,2078.64 1240.25,2082.92 1243.32,2087.19 C1246.4,2091.48 1249.49,2095.76 1252.6,2100.03 C1255.71,2104.31 1258.84,2108.59 1261.98,2112.86 C1265.13,2117.15 1268.29,2121.43 1271.47,2125.7 C1274.65,2129.98 1277.85,2134.26 1281.06,2138.53 C1284.28,2142.82 1287.51,2147.1 1290.75,2151.37 C1294.01,2155.66 1297.28,2159.93 1300.56,2164.21 C1303.85,2168.49 1307.15,2172.77 1310.46,2177.04 C1313.79,2181.33 1317.12,2185.61 1320.47,2189.88 C1323.83,2194.16 1327.2,2198.44 1330.59,2202.71 C1333.98,2207 1337.39,2211.28 1340.81,2215.55 C1344.24,2219.84 1347.68,2224.11 1351.13,2228.38 C1354.6,2232.67 1358.07,2236.95 1361.56,2241.22 C1365.06,2245.51 1368.57,2249.79 1372.09,2254.06 C1375.63,2258.34 1379.17,2262.62 1382.73,2266.89 C1386.3,2271.18 1389.88,2275.46 1393.47,2279.73 C1397.08,2284.02 1400.7,2288.29 1404.32,2292.56 C1407.96,2296.85 1411.62,2301.12 1415.27,2305.4" fill="none" stroke="#ed7d31" stroke-width="4.4" stroke-linecap="round"/>
<rect x="1153.9" y="1823" width="247.7" height="109.9" fill="#fff" stroke="#000" stroke-width="3"/>
<line x1="1174.3" y1="1854" x2="1248.6" y2="1854" stroke="#000" stroke-width="3.7" stroke-linecap="round"/>
<circle cx="1211.45" cy="1854" r="9"/>
<line x1="1174.3" y1="1908.8" x2="1248.6" y2="1908.8" stroke="#ed7d31" stroke-width="3.6" stroke-linecap="round"/>
<g font-family="'Liberation Serif', 'Times New Roman', serif" font-size="34" fill="#636363">
<text x="1255.9" y="1862.4">CFD data</text>
<text x="1257.7" y="1917.7" font-size="33.4">1D model</text>
</g>
<g font-family="'Liberation Serif', 'Times New Roman', serif" fill="#000"><text x="657" y="823.9" font-size="39" font-style="italic">h</text><text x="679" y="829.7" font-size="30" font-style="italic">n</text><text transform="translate(708.2,823.9) scale(1.13,0.76)" font-size="39" stroke="#000" stroke-width="0.5">=</text><text x="746" y="823.9" font-size="39" textLength="80" lengthAdjust="spacingAndGlyphs">2000</text><text x="828.5" y="823.9" font-size="39.6" font-style="italic">Pa</text></g>
<g font-family="'Liberation Serif', 'Times New Roman', serif" fill="#000"><text x="657" y="1701.4" font-size="39" font-style="italic">h</text><text x="679" y="1707.2" font-size="30" font-style="italic">n</text><text transform="translate(708.2,1701.4) scale(1.13,0.76)" font-size="39" stroke="#000" stroke-width="0.5">=</text><text x="746" y="1701.4" font-size="39" textLength="80" lengthAdjust="spacingAndGlyphs">1700</text><text x="828.5" y="1701.4" font-size="39.6" font-style="italic">Pa</text></g>
</svg></body></html>
